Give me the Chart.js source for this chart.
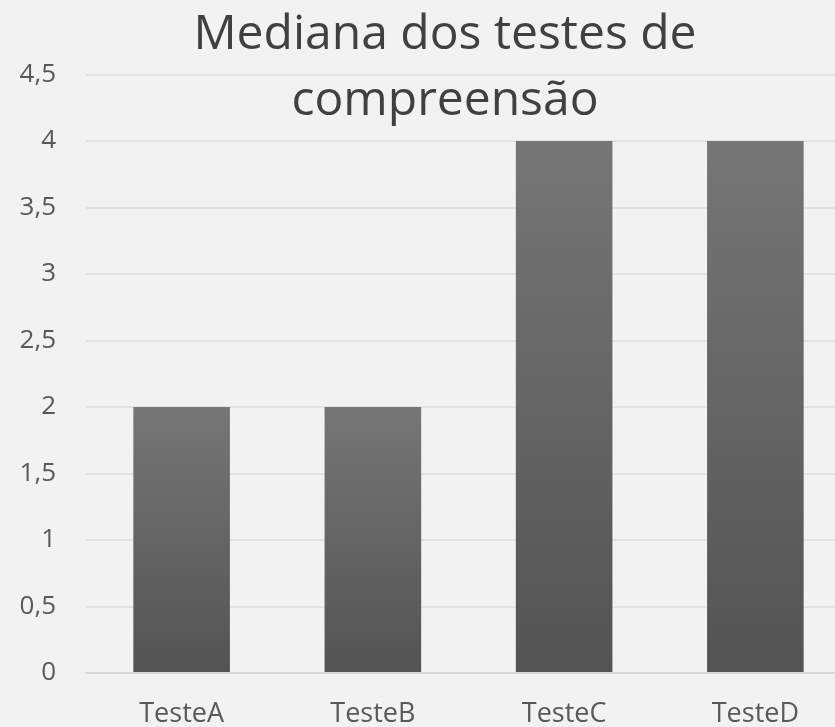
<!DOCTYPE html>
<html>
<head>
<meta charset="utf-8">
<script src="https://cdn.jsdelivr.net/npm/chart.js@4/dist/chart.umd.min.js"></script>
<style>
  html, body { margin: 0; padding: 0; background: #f2f2f2; overflow: hidden; }
  #wrap { position: relative; width: 835px; height: 727px; overflow: hidden; }
</style>
</head>
<body>
<div id="wrap"><canvas id="chart" width="851" height="727"></canvas></div>
<script>
// data
let testNames = ['TesteA', 'TesteB', 'TesteC', 'TesteD'];
let medianValues = [2, 2, 4, 4];
let titleLines = ['Mediana dos testes de', 'compreensão'];

//gradient per bar, light on top, darker at the base
function barGradient(context) {
    const chart = context.chart;
    if (!chart.chartArea) return '#626262';
    const y = chart.scales.y;
    const top = y.getPixelForValue(context.parsed.y);
    const base = y.getPixelForValue(0);
    const g = chart.ctx.createLinearGradient(0, top, 0, base);
    g.addColorStop(0, '#767676');
    g.addColorStop(1, '#535353');
    return g;
}

//the title sits a bit right of the canvas centre
const shiftTitle = {
    id: 'shiftTitle',
    afterLayout: (chart) => {
        if (chart.titleBlock) chart.titleBlock.left = 39;
    }
};

const ctx = document.getElementById('chart');
new Chart(ctx, {
    type: 'bar',
    data: {
        labels: testNames,
        datasets: [{
            label: 'Mediana',
            data: medianValues,
            backgroundColor: barGradient,
            borderWidth: 0,
            barPercentage: 0.505,
            categoryPercentage: 1
        }]
    },
    plugins: [shiftTitle],
    options: {
        responsive: false,
        animation: false,
        layout: { padding: 0 },
        plugins: {
            legend: { display: false },
            tooltip: { enabled: false },
            title: {
                display: true,
                text: titleLines,
                color: '#404040',
                font: { family: 'Open Sans', size: 48, weight: '400', lineHeight: '66px' },
                padding: { top: 2, bottom: -59.5 }
            }
        },
        scales: {
            x: {
                grid: { display: false, drawTicks: false },
                border: { display: true, color: '#d9d9d9', width: 2 },
                ticks: { color: '#595959', font: { family: 'Open Sans', size: 27, weight: '400' }, padding: 25, maxRotation: 0 },
                afterFit: (scale) => { scale.height = 54; }
            },
            y: {
                min: 0,
                max: 4.5,
                grid: { color: '#e2e2e2', lineWidth: 2, drawTicks: false },
                border: { display: false },
                ticks: {
                    stepSize: 0.5,
                    color: '#595959',
                    font: { family: 'Open Sans', size: 26, weight: '400' },
                    padding: 30,
                    callback: (v) => String(v).replace('.', ',')
                },
                afterFit: (scale) => { scale.width = 86; }
            }
        }
    }
});
</script>
</body>
</html>
